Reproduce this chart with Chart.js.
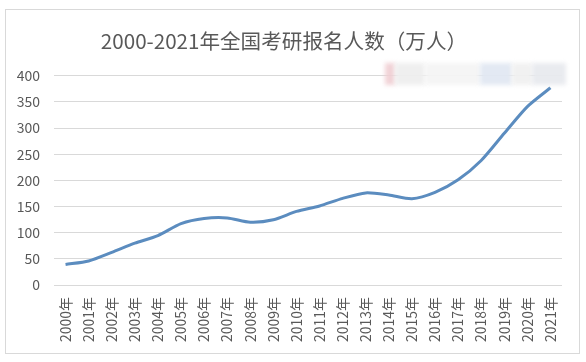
<!DOCTYPE html>
<html>
<head>
<meta charset="utf-8">
<script src="https://cdn.jsdelivr.net/npm/chart.js@4/dist/chart.umd.min.js"></script>
<style>
  html, body { margin: 0; padding: 0; background: #fff; }
  #wrap { width: 586px; height: 362px; position: relative; }
</style>
</head>
<body>
<div id="wrap"><canvas id="c" width="586" height="362"></canvas></div>
<script>
const titleText = "2000-2021年全国考研报名人数（万人）";
const years = ["2000年","2001年","2002年","2003年","2004年","2005年","2006年","2007年","2008年","2009年","2010年","2011年","2012年","2013年","2014年","2015年","2016年","2017年","2018年","2019年","2020年","2021年"];
const applicants = [39.2, 46, 62.4, 79.9, 94.5, 117.2, 127.1, 128.2, 120, 124.6, 140.6, 151.1, 165.6, 176, 172, 164.9, 177, 201, 238, 290, 341, 377];
const yTicks = [0, 50, 100, 150, 200, 250, 300, 350, 400];

const FONT = '"Noto Sans CJK SC", "Noto Sans", sans-serif';

const frame = {
  id: 'frame',
  beforeDraw(chart) {
    const ctx = chart.ctx;
    ctx.save();
    ctx.fillStyle = '#ffffff';
    ctx.fillRect(0, 0, chart.width, chart.height);
    ctx.strokeStyle = '#d9d9d9';
    ctx.lineWidth = 1;
    ctx.strokeRect(5.5, 9.5, 574, 344);
    ctx.restore();
  },
  afterDraw(chart) {
    // pixelated watermark blur in the top-right corner
    const ctx = chart.ctx;
    ctx.save();
    ctx.filter = 'blur(2px)';
    const blocks = [
      [385, 63, 10, 22, 'rgba(240,205,210,0.9)'],
      [395, 63, 30, 22, 'rgba(238,238,238,0.95)'],
      [425, 63, 55, 22, 'rgba(244,244,244,0.95)'],
      [480, 63, 32, 22, 'rgba(226,232,242,0.95)'],
      [512, 63, 20, 22, 'rgba(240,240,240,0.95)'],
      [532, 63, 34, 22, 'rgba(232,234,238,0.95)']
    ];
    blocks.forEach(b => { ctx.fillStyle = b[4]; ctx.fillRect(b[0], b[1], b[2], b[3]); });
    ctx.restore();
  }
};

new Chart(document.getElementById('c'), {
  type: 'line',
  data: {
    labels: years,
    datasets: [{
      data: applicants,
      borderColor: '#5b8cbf',
      borderWidth: 3,
      pointRadius: 0,
      tension: 0.25,
      fill: false
    }]
  },
  options: {
    responsive: false,
    animation: false,
    devicePixelRatio: 1,
    layout: { padding: { left: 6, right: 24, top: 0, bottom: 0 } },
    plugins: {
      legend: { display: false },
      tooltip: { enabled: false },
      title: {
        display: true,
        text: titleText,
        color: '#595959',
        font: { family: FONT, size: 20.6, weight: 'normal' },
        padding: { top: 29, bottom: 22 }
      }
    },
    scales: {
      x: {
        offset: true,
        grid: { display: false, drawTicks: false },
        border: { display: false },
        ticks: {
          color: '#595959',
          font: { family: FONT, size: 14 },
          minRotation: 90,
          maxRotation: 90,
          autoSkip: false,
          padding: 12
        },
        afterFit(s) { s.height = 77; }
      },
      y: {
        min: 0,
        max: 400,
        afterBuildTicks(s) { s.ticks = yTicks.map(v => ({ value: v })); },
        grid: { color: '#d9d9d9', lineWidth: 1, drawTicks: false },
        border: { display: false },
        ticks: {
          color: '#595959',
          font: { family: FONT, size: 14 },
          padding: 14
        },
        afterFit(s) { s.width = 48; }
      }
    }
  },
  plugins: [frame]
});
</script>
</body>
</html>
